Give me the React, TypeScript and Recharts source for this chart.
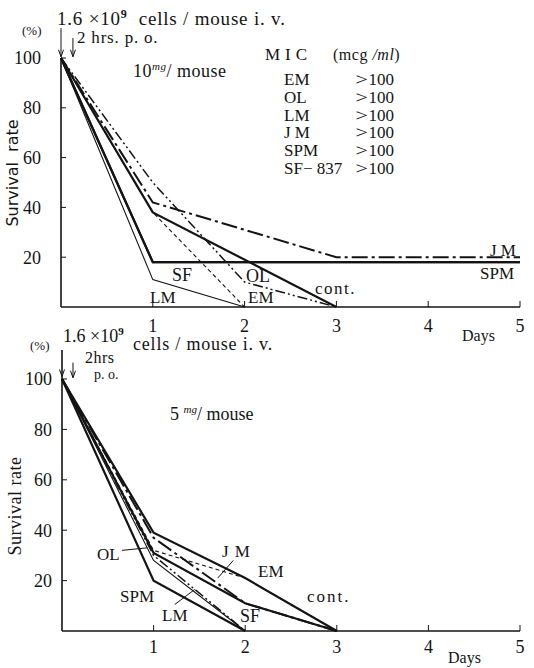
import React from 'react';
import { LineChart, Line, XAxis, YAxis, ReferenceLine, ReferenceDot } from 'recharts';

// days after infection
const days = [0, 1, 2, 3, 4, 5];
const dayTicks = [1, 2, 3, 4, 5];
const rateTicks = [20, 40, 60, 80, 100];

// 10 mg/mouse
const em10 = [100, 38, 0, null, null, null];
const ol10 = [100, 50, 10, 0, null, null];
const lm10 = [100, 11, 0, null, null, null];
const jm10 = [100, 42, null, 20, 20, 20];
const spm10 = [100, 18, 18, 18, 18, 18];
const sf10 = [100, 18, 18, 18, 18, 18];
const cont10 = [100, 38, null, 0, null, null];

// 5 mg/mouse
const em5 = [100, 32, 21, 0, null, null];
const ol5 = [100, 30, 0, null, null, null];
const lm5 = [100, 28, 0, null, null, null];
const jm5 = [100, 37, 11, 0, null, null];
const spm5 = [100, 20, 0, null, null, null];
const sf5 = [100, 31, 11, 0, null, null];
const cont5 = [100, 39, 21, 0, null, null];

const mic = ['EM', 'OL', 'LM', 'J M', 'SPM', 'SF\u2212 837'];

const build = (s: Record<string, (number | null)[]>) =>
  days.map((d, i) => {
    const row: Record<string, number | null> = { day: d };
    Object.keys(s).forEach((k) => (row[k] = s[k][i]));
    return row;
  });

const data10 = build({ EM: em10, OL: ol10, LM: lm10, JM: jm10, SPM: spm10, SF: sf10, cont: cont10 });
const data5 = build({ EM: em5, OL: ol5, LM: lm5, JM: jm5, SPM: spm5, SF: sf5, cont: cont5 });

const INK = '#141414';
const SERIF = '"Liberation Serif", "DejaVu Serif", serif';

const yTick = (margin: number) => (props: any) => {
  const { x, y, payload } = props;
  const ax = x + margin;
  return (
    <g>
      <line x1={ax} x2={ax + 5} y1={y} y2={y} stroke={INK} />
      <text x={x} y={y} dy="0.35em" textAnchor="end" fontSize={18} fontFamily={SERIF} fill={INK}>
        {payload.value}
      </text>
    </g>
  );
};

const xTick = (margin: number) => (props: any) => {
  const { x, y, payload } = props;
  const ay = y - margin;
  return (
    <g>
      <line x1={x} x2={x} y1={ay} y2={ay - 6} stroke={INK} />
      <text x={x} y={y} dy="0.71em" textAnchor="middle" fontSize={18} fontFamily={SERIF} fill={INK}>
        {payload.value}
      </text>
    </g>
  );
};

const arrowHead = (p: any) => (
  <path d={`M${p.cx - 2.5},${p.cy - 7} L${p.cx},${p.cy} L${p.cx + 2.5},${p.cy - 7}`} stroke={INK} fill="none" />
);

const T = ({ x, y, size = 17, children, style }: any) => (
  <div
    style={{
      position: 'absolute',
      left: x,
      top: y,
      fontSize: size,
      fontFamily: SERIF,
      lineHeight: 1,
      whiteSpace: 'nowrap',
      color: INK,
      ...style,
    }}
  >
    {children}
  </div>
);

const sup = (size: number, extra: any = {}) => ({ fontSize: size, lineHeight: 0, verticalAlign: 'super', ...extra });

const series = (w: number) => ({
  type: 'linear' as const,
  stroke: INK,
  dot: false,
  activeDot: false,
  connectNulls: true,
  isAnimationActive: false,
  strokeWidth: w,
});

const Panel = ({ data, top, height, margin, yMargin, xMargin, children }: any) => (
  <div style={{ position: 'absolute', left: 0, top }}>
    <LineChart width={534} height={height} data={data} margin={margin} style={{ overflow: 'visible' }}>
      <XAxis
        dataKey="day"
        type="number"
        domain={[0, 5]}
        ticks={dayTicks}
        height={20}
        tickSize={0}
        tickMargin={xMargin}
        tickLine={false}
        axisLine={{ stroke: INK, strokeWidth: 1.6 }}
        tick={xTick(xMargin)}
      />
      <YAxis
        type="number"
        domain={[0, 100]}
        ticks={rateTicks}
        width={45}
        tickSize={0}
        tickMargin={yMargin}
        tickLine={false}
        axisLine={{ stroke: INK, strokeWidth: 1.6 }}
        tick={yTick(yMargin)}
      />
      <Line dataKey="LM" {...series(1.1)} />
      <Line dataKey="SF" {...series(2.2)} />
      <Line dataKey="SPM" {...series(2.2)} />
      <Line dataKey="EM" {...series(1.1)} strokeDasharray="4 3" />
      <Line dataKey="cont" {...series(2.2)} />
      <Line dataKey="OL" {...series(1.5)} strokeDasharray="10 3 2 3 2 3" />
      <Line dataKey="JM" {...series(2)} strokeDasharray="16 4 3 4" />
      {children}
    </LineChart>
  </div>
);

export default function App() {
  return (
    <div
      style={{
        position: 'absolute',
        left: 0,
        top: 0,
        width: 534,
        height: 668,
        background: '#fff',
        fontFamily: SERIF,
        overflow: 'hidden',
      }}
    >
      <Panel
        data={data10}
        top={0}
        height={345}
        margin={{ top: 58, right: 14, bottom: 18, left: 16 }}
        yMargin={20}
        xMargin={12}
      >
        <ReferenceLine segment={[{ x: 0, y: 112 }, { x: 0, y: 100.5 }]} stroke={INK} ifOverflow="visible" />
        <ReferenceDot x={0} y={100.5} r={0} shape={arrowHead} ifOverflow="visible" />
        <ReferenceLine segment={[{ x: 0.13, y: 108 }, { x: 0.13, y: 100.5 }]} stroke={INK} ifOverflow="visible" />
        <ReferenceDot x={0.13} y={100.5} r={0} shape={arrowHead} ifOverflow="visible" />
      </Panel>

      <Panel
        data={data5}
        top={330}
        height={338}
        margin={{ top: 49, right: 14, bottom: 17, left: 17 }}
        yMargin={10}
        xMargin={9}
      >
        <ReferenceLine segment={[{ x: 0, y: 111.5 }, { x: 0, y: 100 }]} stroke={INK} strokeWidth={1.6} ifOverflow="visible" />
        <ReferenceDot x={0} y={101} r={0} shape={arrowHead} ifOverflow="visible" />
        <ReferenceLine segment={[{ x: 0.12, y: 106.5 }, { x: 0.12, y: 100.5 }]} stroke={INK} ifOverflow="visible" />
        <ReferenceDot x={0.12} y={100.5} r={0} shape={arrowHead} ifOverflow="visible" />
        <ReferenceLine segment={[{ x: 0.655, y: 32 }, { x: 0.93, y: 33 }]} stroke={INK} ifOverflow="visible" />
        <ReferenceLine segment={[{ x: 1.87, y: 28 }, { x: 1.7, y: 21 }]} stroke={INK} ifOverflow="visible" />
        <ReferenceLine segment={[{ x: 1.23, y: 10.5 }, { x: 1.45, y: 16.5 }]} stroke={INK} ifOverflow="visible" />
      </Panel>

      {/* top panel annotations */}
      <T x={22} y={24} size={13}>(%)</T>
      <T x={57} y={9} size={19} style={{ letterSpacing: 0.8 }}>
        1.6 ×10<span style={sup(12, { fontWeight: 'bold' })}>9</span>&nbsp; cells / mouse i. v.
      </T>
      <T x={77} y={29} size={17} style={{ letterSpacing: 0.8 }}>2 hrs. p. o.</T>
      <T x={133} y={62} size={18} style={{ letterSpacing: 0.5 }}>
        10<span style={sup(11, { fontStyle: 'italic' })}>mg</span>/ mouse
      </T>
      <T x={265} y={46} size={17} style={{ letterSpacing: 5 }}>MIC</T>
      <T x={333} y={47} size={16} style={{ letterSpacing: 0.5 }}>
        (mcg <i>/ml</i>)
      </T>
      {mic.map((m, i) => (
        <React.Fragment key={m}>
          <T x={284} y={71 + i * 17.8} size={17}>{m}</T>
          <T x={357} y={71 + i * 17.8} size={17}>
            <span style={{ transform: 'scaleX(1.3)', display: 'inline-block', marginRight: 2 }}>&gt;</span>100
          </T>
        </React.Fragment>
      ))}
      <T x={490} y={242} size={17}>J M</T>
      <T x={480} y={265} size={17}>SPM</T>
      <T x={172} y={266} size={18}>SF</T>
      <T x={246} y={267} size={18}>OL</T>
      <T x={315} y={280} size={17} style={{ letterSpacing: 1.5 }}>cont.</T>
      <T x={150} y={289} size={17}>LM</T>
      <T x={248} y={289} size={17}>EM</T>
      <T x={462} y={328} size={16}>Days</T>
      <div
        style={{
          position: 'absolute',
          left: 12,
          top: 173,
          transform: 'translate(-50%, -50%) rotate(-90deg)',
          fontFamily: '"DejaVu Sans", sans-serif',
          fontSize: 16,
          whiteSpace: 'nowrap',
          color: INK,
        }}
      >
        Survival&nbsp; rate
      </div>

      {/* bottom panel annotations */}
      <T x={30} y={339} size={13}>(%)</T>
      <T x={63} y={327} size={18}>
        1.6 ×10<span style={sup(11, { fontWeight: 'bold' })}>9</span>
      </T>
      <T x={133} y={335} size={18} style={{ letterSpacing: 0.8 }}>cells / mouse i. v.</T>
      <T x={85} y={350} size={16} style={{ letterSpacing: 0.5 }}>2hrs</T>
      <T x={94} y={368} size={14}>p. o.</T>
      <T x={170} y={405} size={18}>
        5 <span style={sup(11, { fontStyle: 'italic' })}>mg</span>/ mouse
      </T>
      <T x={97} y={546} size={17}>OL</T>
      <T x={222} y={543} size={17} style={{ letterSpacing: 1 }}>J M</T>
      <T x={258} y={563} size={17}>EM</T>
      <T x={120} y={588} size={17}>SPM</T>
      <T x={307} y={588} size={17} style={{ letterSpacing: 2 }}>cont.</T>
      <T x={162} y={607} size={17}>LM</T>
      <T x={240} y={607} size={18}>SF</T>
      <T x={448} y={650} size={16}>Days</T>
      <div
        style={{
          position: 'absolute',
          left: 15,
          top: 506,
          transform: 'translate(-50%, -50%) rotate(-90deg)',
          fontFamily: SERIF,
          fontSize: 18,
          whiteSpace: 'nowrap',
          color: INK,
          letterSpacing: 0.5,
        }}
      >
        Survival rate
      </div>
    </div>
  );
}
